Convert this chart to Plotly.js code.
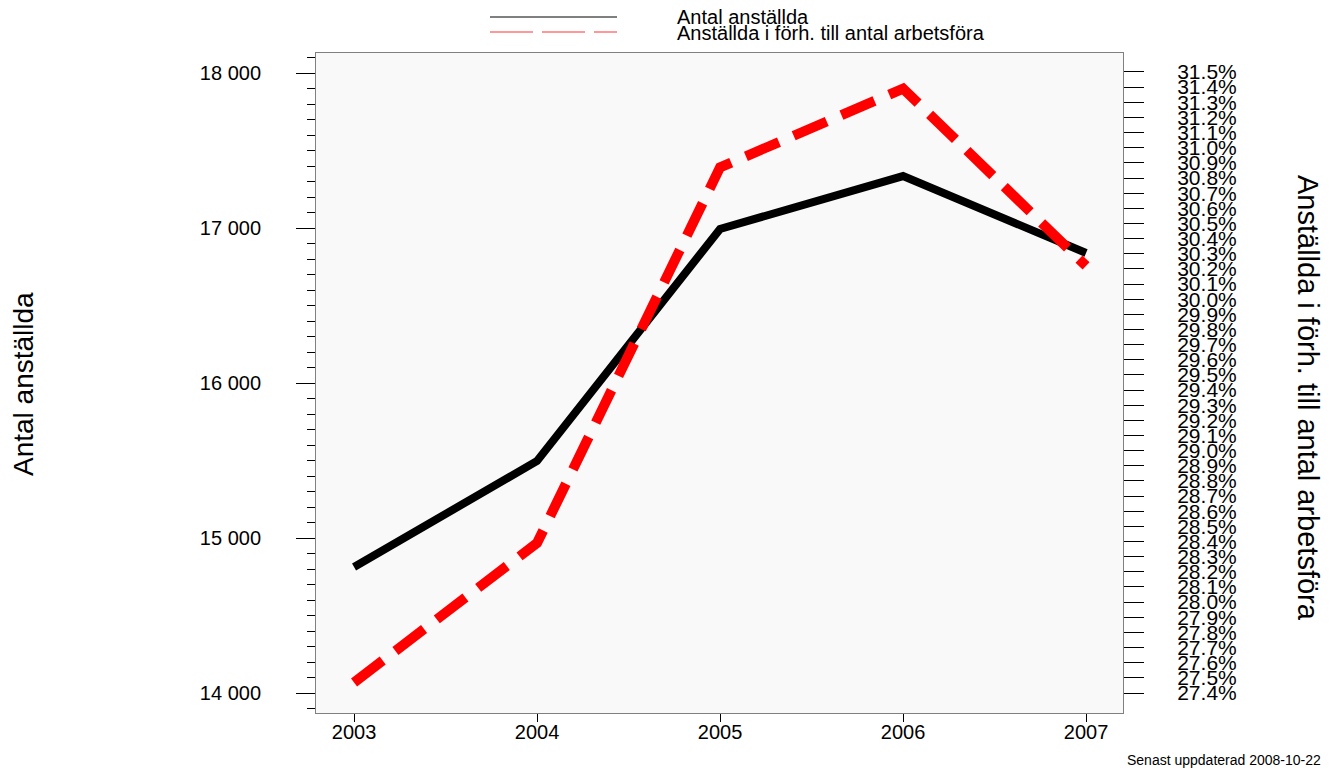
<!DOCTYPE html>
<html>
<head>
<meta charset="utf-8">
<script src="https://cdn.plot.ly/plotly-3.0.1.min.js"></script>
<style>html,body{margin:0;padding:0;background:#fff}#chart{width:1334px;height:771px}</style>
</head>
<body>
<div id="chart"></div>
<script>
// ---- data ----
const years = [2003, 2004, 2005, 2006, 2007];
const antalAnstallda = [14813, 15497, 16994, 17335, 16839];
const andelArbetsfora = [27.47, 28.39, 30.87, 31.39, 30.22];
const leftTicks = [14000, 15000, 16000, 17000, 18000];
const rightTicks = [27.4,27.5,27.6,27.7,27.8,27.9,28.0,28.1,28.2,28.3,28.4,28.5,28.6,28.7,28.8,28.9,29.0,29.1,29.2,29.3,29.4,29.5,29.6,29.7,29.8,29.9,30.0,30.1,30.2,30.3,30.4,30.5,30.6,30.7,30.8,30.9,31.0,31.1,31.2,31.3,31.4,31.5];
const rightTickLabels = rightTicks.map(v => v.toFixed(1) + '%');
const seriesNames = ["Antal anställda", "Anställda i förh. till antal arbetsföra"];
const leftTitle = "Antal anställda";
const rightTitle = "Anställda i förh. till antal arbetsföra";
const footnote = "Senast uppdaterad 2008-10-22";

// ---- layout geometry (pixels) ----
const W = 1334, H = 771;
const L = 316, R = 1123, T = 53, B = 713;
const pw = R - L, ph = B - T;
const px = x => (x - L) / pw;
const py = y => (B - y) / ph;
const FONT = "Liberation Sans, Arial, sans-serif";

const traces = [
  {x: years, y: antalAnstallda, type: 'scatter', mode: 'lines', name: seriesNames[0],
   line: {color: '#000000', width: 8}, yaxis: 'y', showlegend: false, hoverinfo: 'skip'},
  {x: years, y: andelArbetsfora, type: 'scatter', mode: 'lines', name: seriesNames[1],
   line: {color: '#ff0000', width: 10, dash: '36px,16px'}, yaxis: 'y2', showlegend: false, hoverinfo: 'skip'}
];

const layout = {
  width: W, height: H,
  margin: {l: L, r: W - R, t: T, b: H - B, pad: 0},
  paper_bgcolor: '#ffffff',
  plot_bgcolor: '#f9f9f9',
  font: {family: FONT, size: 20, color: '#000'},
  showlegend: false,
  xaxis: {
    range: [2002.792, 2002.792 + pw / 183],
    tickvals: years, ticktext: years.map(String),
    ticks: 'outside', ticklen: 8, tickcolor: '#000', tickwidth: 1,
    showgrid: false, zeroline: false,
    showline: true, mirror: true, linecolor: '#808080', linewidth: 1,
    tickfont: {family: FONT, size: 20, color: '#000'},
    ticklabelstandoff: -7
  },
  yaxis: {
    range: [13871, 18129],
    tickvals: leftTicks, ticktext: leftTicks.map(v => String(v).replace(/(\d)(\d{3})$/, '$1 $2')),
    ticks: 'outside', ticklen: 19, tickcolor: '#000', tickwidth: 1,
    minor: {dtick: 100, tick0: 14000, ticks: 'outside', ticklen: 8, tickcolor: '#000', tickwidth: 1, showgrid: false},
    showgrid: false, zeroline: false,
    showline: true, mirror: true, linecolor: '#808080', linewidth: 1,
    tickfont: {family: FONT, size: 20, color: '#000'},
    ticklabelstandoff: 31
  },
  yaxis2: {
    overlaying: 'y', side: 'right',
    range: [27.268, 31.6254],
    tickvals: rightTicks, ticktext: rightTickLabels,
    ticks: 'outside', ticklen: 20, tickcolor: '#000', tickwidth: 1,
    showgrid: false, zeroline: false, showline: false,
    tickfont: {family: FONT, size: 21, color: '#000'},
    ticklabelstandoff: 29
  },
  shapes: [
    {type: 'line', xref: 'paper', yref: 'paper', x0: px(490), x1: px(617), y0: py(17), y1: py(17),
     line: {color: '#000', width: 1}},
    {type: 'line', xref: 'paper', yref: 'paper', x0: px(490), x1: px(617), y0: py(32), y1: py(32),
     line: {color: '#ff3333', width: 1.2, dash: '43px,9px'}}
  ],
  annotations: [
    {text: seriesNames[0], xref: 'paper', yref: 'paper', x: px(675), y: py(17), xanchor: 'left', yanchor: 'middle',
     showarrow: false, font: {family: FONT, size: 20, color: '#000'}},
    {text: seriesNames[1], xref: 'paper', yref: 'paper', x: px(675), y: py(33), xanchor: 'left', yanchor: 'middle',
     showarrow: false, font: {family: FONT, size: 20, color: '#000'}},
    {text: leftTitle, xref: 'paper', yref: 'paper', x: px(24), y: py(384), xanchor: 'center', yanchor: 'middle',
     textangle: -90, showarrow: false, font: {family: FONT, size: 28, color: '#000'}},
    {text: rightTitle, xref: 'paper', yref: 'paper', x: px(1308), y: py(398), xanchor: 'center', yanchor: 'middle',
     textangle: 90, showarrow: false, font: {family: FONT, size: 29, color: '#000'}},
    {text: footnote, xref: 'paper', yref: 'paper', x: px(1323), y: py(760), xanchor: 'right', yanchor: 'middle',
     showarrow: false, font: {family: FONT, size: 14, color: '#000'}}
  ]
};

Plotly.newPlot('chart', traces, layout, {staticPlot: true, displayModeBar: false});
</script>
</body>
</html>
